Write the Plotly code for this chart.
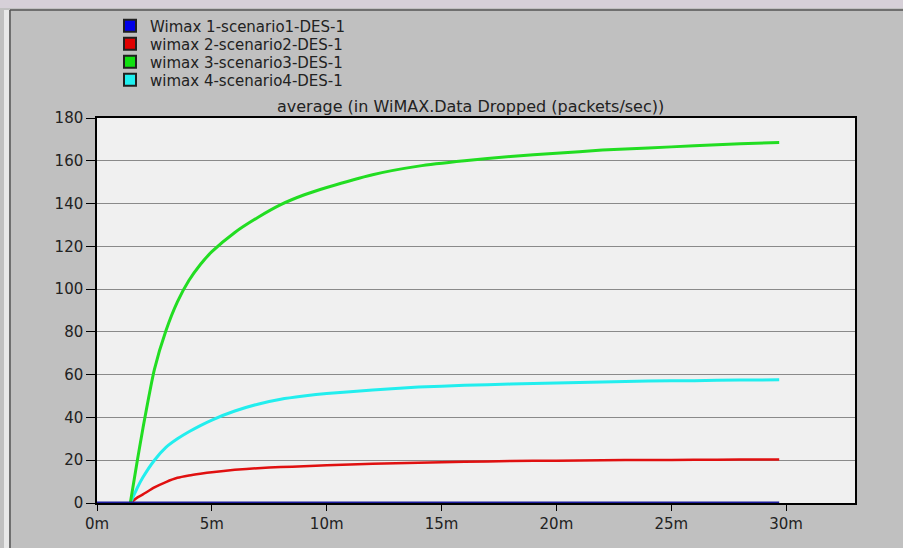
import plotly.graph_objects as go

# ---- data (time in minutes, values in packets/sec) ----
time_min = [1.45, 1.75, 2, 2.5, 3, 3.5, 4, 4.5, 5, 6, 7, 8, 9, 10, 12, 14, 16, 18, 20, 22, 24, 26, 28, 29.7]
wimax1_time = [0.0, 29.7]
wimax1_vals = [0, 0]
wimax2_vals = [0, 2.5, 4.0, 7.3, 9.8, 11.8, 12.9, 13.7, 14.4, 15.5, 16.3, 16.8, 17.2, 17.6, 18.3, 18.8, 19.3, 19.6, 19.8, 20.0, 20.1, 20.2, 20.3, 20.3]
wimax3_vals = [0, 19.5, 35, 62.5, 80.5, 94, 104, 111.5, 117.5, 126.5, 133.5, 139.5, 144, 147.5, 153.5, 157.5, 160, 162, 163.5, 165, 166, 167, 168, 168.5]
wimax4_vals = [0, 7, 12, 20, 26, 30, 33.3, 36.2, 38.8, 43, 46.2, 48.5, 50, 51.2, 52.8, 54.2, 55, 55.6, 56.1, 56.6, 57, 57.2, 57.5, 57.6]

names = ["Wimax 1-scenario1-DES-1", "wimax 2-scenario2-DES-1",
         "wimax 3-scenario3-DES-1", "wimax 4-scenario4-DES-1"]
x_ticks = [0, 5, 10, 15, 20, 25, 30]
x_tick_labels = ["0m", "5m", "10m", "15m", "20m", "25m", "30m"]
y_ticks = [0, 20, 40, 60, 80, 100, 120, 140, 160, 180]
title_text = "average (in WiMAX.Data Dropped (packets/sec))"

line_colors = ["#1c1c9c", "#e01010", "#22dd22", "#22eeee"]
legend_colors = ["#0000e8", "#e00000", "#10e010", "#20f0f0"]

series = [(wimax1_time, wimax1_vals), (time_min, wimax2_vals),
          (time_min, wimax3_vals), (time_min, wimax4_vals)]
widths = [3, 2.5, 3, 3]

# pixel geometry of the plot area
W, H = 903, 548
ML, MR, MT, MB = 97, 48, 118, 45
PW, PH = W - ML - MR, H - MT - MB


def px_x(x):
    return (x - ML) / PW


def px_y(y):
    return (H - MB - y) / PH


fig = go.Figure()
for i in [1, 3, 2, 0]:
    xs, ys = series[i]
    fig.add_trace(go.Scatter(x=xs, y=ys, mode="lines",
                             line=dict(color=line_colors[i], width=widths[i], shape="spline", smoothing=0.6),
                             showlegend=False, hoverinfo="skip", cliponaxis=(i != 0)))

legend_keys = ["legend", "legend2", "legend3", "legend4"]
legend_rows = [26, 44, 62, 80]
for i in range(4):
    fig.add_trace(go.Scatter(x=[None], y=[None], mode="markers", name=names[i],
                             legend=legend_keys[i],
                             marker=dict(symbol="square", size=12, color=legend_colors[i],
                                         line=dict(color="#202020", width=1))))

font_main = dict(family="DejaVu Sans, Verdana, sans-serif", size=16, color="#222222")
font_legend = dict(family="DejaVu Sans, Verdana, sans-serif", size=15, color="#222222")
font_tick = dict(family="DejaVu Sans, Verdana, sans-serif", size=15, color="#222222")

legend_layouts = {}
for i, key in enumerate(legend_keys):
    legend_layouts[key] = dict(x=px_x(110), y=px_y(legend_rows[i]), xanchor="left", yanchor="middle",
                               bgcolor="rgba(0,0,0,0)", font=font_legend,
                               borderwidth=0, itemsizing="constant")

fig.update_layout(
    width=W, height=H,
    margin=dict(l=ML, r=MR, t=MT, b=MB, autoexpand=False),
    paper_bgcolor="#c0c0c0",
    plot_bgcolor="#f0f0f0",
    font=font_main,
    showlegend=True,
    xaxis=dict(range=[0, 33], tickvals=x_ticks, ticktext=x_tick_labels,
               showgrid=False, zeroline=False, ticks="outside", ticklen=6,
               tickcolor="#000000", showline=True, linecolor="#000000", linewidth=1.5,
               mirror=True, tickfont=font_tick, fixedrange=True),
    yaxis=dict(range=[0, 180], tickvals=y_ticks, showgrid=True, gridcolor="#8a8a8a",
               gridwidth=1, zeroline=False, ticks="outside", ticklen=9,
               tickcolor="#000000", showline=True, linecolor="#000000", linewidth=1.5,
               mirror=True, tickfont=font_tick, fixedrange=True),
    annotations=[dict(text=title_text, x=px_x(470), y=px_y(106), xref="paper", yref="paper",
                      showarrow=False, xanchor="center", yanchor="middle", font=font_main)],
    **legend_layouts,
)

# window frame decoration
fig.add_shape(type="rect", xref="paper", yref="paper",
              x0=px_x(0), x1=px_x(W), y0=px_y(0), y1=px_y(8),
              fillcolor="#d6d0d8", line_width=0, layer="below")
fig.add_shape(type="line", xref="paper", yref="paper",
              x0=px_x(10), x1=px_x(W), y0=px_y(10), y1=px_y(10),
              line=dict(color="#555555", width=1.5), layer="below")
fig.add_shape(type="line", xref="paper", yref="paper",
              x0=px_x(10), x1=px_x(10), y0=px_y(10), y1=px_y(H),
              line=dict(color="#555555", width=1.5), layer="below")
fig.add_shape(type="rect", xref="paper", yref="paper",
              x0=px_x(4), x1=px_x(9), y0=px_y(H), y1=px_y(10),
              fillcolor="#e8e8e8", line_width=0, layer="below")

fig.write_html("out.html", config={"displayModeBar": False},
               post_script="document.body.style.margin='0';document.body.style.padding='0';")
